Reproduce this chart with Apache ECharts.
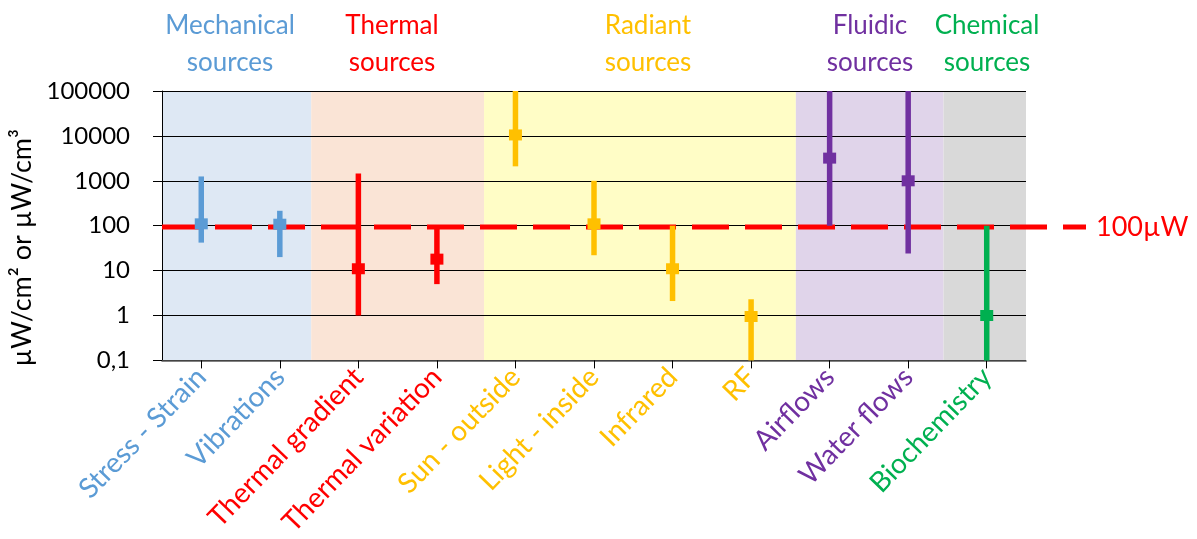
<!DOCTYPE html>
<html><head><meta charset="utf-8">
<script src="https://cdn.jsdelivr.net/npm/echarts@6/dist/echarts.min.js"></script>
<style>html,body{margin:0;padding:0;background:#fff}#c{width:1197px;height:539px}</style>
</head><body><div id="c"></div>
<script>
// ---- data ----
const categories = ['Stress - Strain','Vibrations','Thermal gradient','Thermal variation','Sun - outside','Light - inside','Infrared','RF','Airflows','Water flows','Biochemistry'];
const lowValues  = [42, 20, 1, 5, 2100, 22, 2.1, 0.1, 100, 24, 0.1];
const midValues  = [110, 108, 11, 18, 10500, 110, 11, 0.95, 3200, 1000, 1];
const highValues = [1250, 215, 1450, 100, 100000, 1000, 100, 2.3, 100000, 100000, 100];
const categoryGroup = [0,0,1,1,2,2,2,2,3,3,4];
const groupNames = ['Mechanical\nsources','Thermal\nsources','Radiant\nsources','Fluidic\nsources','Chemical\nsources'];
const groupStart = [0, 1.9, 4.1, 8.07, 9.95];
const groupEnd   = [1.9, 4.1, 8.07, 9.95, 11];
const thresholdValue = 100;
const thresholdLabel = '100µW';
const yAxisName = 'µW/cm² or µW/cm³';

// ---- styles ----
const FONT = 'Lato';
const groupColors = ['#5B9BD5','#FF0000','#FFC000','#7030A0','#00B050'];
const bandColors  = ['#DEE8F4','#FAE4D6','#FFFDC6','#E0D4EA','#D9D9D9'];
const headerX = [230, 392, 648, 870, 987];

const chart = echarts.init(document.getElementById('c'), null, {renderer:'canvas'});

const option = {
  backgroundColor: '#fff',
  animation: false,
  grid: [
    {left:162, right:171, top:91, bottom:176},
    {left:162, right:111, top:91, bottom:176}
  ],
  xAxis: [
    {type:'category', gridIndex:0, data:categories, boundaryGap:true, z:1,
     axisLine:{show:true, lineStyle:{color:'#595959', width:1.5}},
     axisTick:{show:true, alignWithLabel:true, length:8, lineStyle:{color:'#000', width:1}},
     splitLine:{show:false},
     axisLabel:{interval:0, rotate:46, margin:12, fontSize:28, fontFamily:FONT,
       color:(v)=>groupColors[categoryGroup[categories.indexOf(v)]]}},
    {type:'value', gridIndex:0, min:0, max:11, show:false},
    {type:'value', gridIndex:1, min:0, max:1, show:false}
  ],
  yAxis: [
    {type:'log', gridIndex:0, logBase:10, min:0.1, max:100000, z:1,
     axisLine:{show:true, lineStyle:{color:'#000', width:1}},
     axisTick:{show:true, length:9, lineStyle:{color:'#000'}},
     splitLine:{show:true, lineStyle:{color:'#000', width:1}},
     axisLabel:{fontSize:24, fontFamily:FONT, color:'#000', margin:32,
       formatter:(v)=> v < 0.5 ? '0,1' : String(Math.round(v))},
     name:yAxisName, nameLocation:'middle', nameGap:117,
     nameTextStyle:{fontSize:27, fontFamily:FONT, color:'#000', padding:[0,44,0,0]}},
    {type:'log', gridIndex:1, logBase:10, min:0.1, max:100000, show:false}
  ],
  series: [
    {
      type:'custom', xAxisIndex:1, yAxisIndex:0, z:0, silent:true,
      data: groupStart.map((s,i)=>[s, groupEnd[i], i]),
      encode:{x:[0,1]},
      renderItem:(params, api)=>{
        const p0 = api.coord([api.value(0), 100000]);
        const p1 = api.coord([api.value(1), 0.1]);
        return {type:'rect', shape:{x:p0[0], y:p0[1], width:p1[0]-p0[0], height:p1[1]-p0[1]},
                style:{fill:bandColors[api.value(2)]}};
      }
    },
    {
      type:'line', xAxisIndex:2, yAxisIndex:1, z:3, silent:true, symbol:'none',
      data:[[0, thresholdValue],[1, thresholdValue]],
      lineStyle:{color:'#FF0000', width:5, type:[37,16]},
      endLabel:{show:true, formatter:thresholdLabel, color:'#FF0000', fontSize:27, fontFamily:FONT, distance:10}
    },
    {
      type:'custom', xAxisIndex:0, yAxisIndex:0, z:4, silent:true,
      data: categories.map((c,i)=>[i, lowValues[i], midValues[i], highValues[i]]),
      encode:{x:0, y:[1,2,3]},
      renderItem:(params, api)=>{
        const x = api.value(0);
        const lo = api.coord([x, api.value(1)]);
        const mid = api.coord([x, api.value(2)]);
        const hi = api.coord([x, api.value(3)]);
        const col = groupColors[categoryGroup[params.dataIndex]];
        return {type:'group', children:[
          {type:'rect', shape:{x:lo[0]-2.75, y:hi[1], width:5.5, height:lo[1]-hi[1]}, style:{fill:col}},
          {type:'rect', shape:{x:mid[0]-6.5, y:mid[1]-5.5, width:13, height:11}, style:{fill:col}}
        ]};
      }
    }
  ]
};
// header labels
option.graphic = groupNames.map((t,i)=>({
  type:'text', x: headerX[i], y: 7, z:10,
  style:{text:t, fill:groupColors[i], font:'26px '+FONT, align:'center', textAlign:'center', lineHeight:37}
}));
chart.setOption(option);
</script></body></html>
